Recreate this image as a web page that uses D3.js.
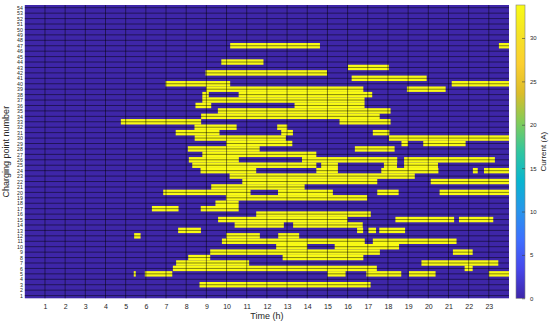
<!DOCTYPE html>
<html>
<head>
<meta charset="utf-8">
<script src="https://cdn.jsdelivr.net/npm/d3@7"></script>
<style>
  body { margin: 0; background: #fff; }
  text { font-family: "Liberation Sans", Arial, Helvetica, sans-serif; fill: #262626; }
</style>
</head>
<body>
<svg id="chart" width="550" height="323"></svg>
<script>
/////// Data

var pointIds = d3.range(1, 55);
var hourTicks = [1, 2, 3, 4, 5, 6, 7, 8, 9, 10, 11, 12, 13, 14, 15, 16, 17, 18, 19, 20, 21, 22, 23];
var currentTicks = [0, 5, 10, 15, 20, 25, 30];
var currentMax = 33.8;
var chargeCurrent = 33.8;

// charging intervals per point: [point, start h, end h]
var chargingSessions = [
  [3, 8.66, 17.14],
  [5, 5.40, 5.50], [5, 5.95, 7.31], [5, 15.0, 15.9], [5, 16.93, 18.66], [5, 19.04, 20.36], [5, 23.0, 24],
  [6, 7.34, 17.45], [6, 21.8, 22.2],
  [7, 7.5, 11.12], [7, 19.66, 23.47],
  [8, 8.1, 9.19], [8, 12.78, 16.78],
  [9, 9.19, 17.6], [9, 21.22, 22.2],
  [10, 12.46, 14.0], [10, 15.36, 18.55],
  [11, 9.77, 16.85], [11, 17.25, 21.4],
  [12, 5.42, 5.74], [12, 9.98, 11.65], [12, 12.56, 13.6],
  [13, 7.6, 8.73], [13, 16.47, 16.77], [13, 17.03, 17.41], [13, 17.57, 18.85],
  [14, 10.4, 12.84], [14, 13.3, 16.75],
  [15, 9.58, 16.0], [15, 18.37, 21.28], [15, 21.52, 23.22],
  [16, 11.47, 17.15],
  [17, 6.3, 7.62], [17, 8.72, 10.6],
  [18, 9.45, 10.6],
  [19, 9.97, 16.97],
  [20, 6.86, 11.19], [20, 12.55, 15.27], [20, 17.47, 18.53], [20, 20.56, 24],
  [21, 9.24, 13.87],
  [22, 10.78, 17.47], [22, 20.12, 24],
  [23, 10.15, 19.33],
  [24, 8.71, 11.47], [24, 14.45, 15.52], [24, 17.67, 20.5], [24, 22.21, 22.45], [24, 22.76, 24],
  [25, 8.3, 14.45], [25, 14.69, 15.52], [25, 17.8, 18.45], [25, 18.8, 20.48],
  [26, 8.13, 10.61], [26, 13.74, 18.46], [26, 18.8, 23.3],
  [27, 8.8, 14.45],
  [28, 8.08, 11.64], [28, 16.36, 18.33],
  [29, 9.98, 13.26], [29, 18.67, 19.0], [29, 19.75, 21.85],
  [30, 8.42, 12.94], [30, 18.05, 24],
  [31, 7.48, 9.65], [31, 12.71, 13.29], [31, 17.25, 18.07],
  [32, 8.41, 10.5], [32, 12.51, 13.01],
  [33, 4.76, 8.74], [33, 15.6, 18.13],
  [34, 8.74, 17.59],
  [35, 9.57, 18.13],
  [36, 8.46, 9.24], [36, 13.37, 16.84],
  [37, 8.8, 16.84],
  [38, 8.8, 9.12], [38, 10.6, 17.22],
  [39, 8.99, 16.78], [39, 18.94, 20.86],
  [40, 6.98, 10.18], [40, 21.16, 24],
  [41, 16.2, 19.92],
  [42, 8.96, 14.98],
  [43, 16.02, 18.05],
  [44, 9.74, 11.83],
  [47, 10.18, 14.63], [47, 23.5, 24]
];

/////// Layout

var svg = d3.select('#chart');
var plotLeft = 24.8, plotRight = 509, plotTop = 5, plotBottom = 298.3;

var x = d3.scaleLinear().domain([0, 24]).range([plotLeft, plotRight]);
var y = d3.scaleLinear().domain([0.5, 54.5]).range([plotBottom, plotTop]);

// parula-like colour map
var parulaStops = ['#3e26a8', '#4747eb', '#3e6fff', '#2796eb', '#08b5d0', '#31c69f', '#81cc59', '#dcbd29', '#fccf30', '#f5e326', '#f9fb15'];
var color = d3.scaleLinear()
    .domain(parulaStops.map(function (d, i) { return currentMax * i / (parulaStops.length - 1); }))
    .range(parulaStops);

/////// Heat map

svg.append('rect')
    .attr('x', x(0))
    .attr('y', y(54.5))
    .attr('width', x(24) - x(0))
    .attr('height', y(0.5) - y(54.5))
    .attr('fill', color(0));

svg.append('g')
  .selectAll('rect')
  .data(chargingSessions)
  .join('rect')
    .attr('x', function (d) { return x(d[1]); })
    .attr('y', function (d) { return y(d[0] + 0.5); })
    .attr('width', function (d) { return x(d[2]) - x(d[1]); })
    .attr('height', function (d) { return y(d[0] - 0.5) - y(d[0] + 0.5); })
    .attr('fill', color(chargeCurrent));

// grid lines through the ticks
var grid = svg.append('g')
    .attr('stroke', '#000')
    .attr('stroke-opacity', 0.6)
    .attr('stroke-width', 0.8);

grid.selectAll('.hgrid')
  .data(pointIds)
  .join('line')
    .attr('class', 'hgrid')
    .attr('x1', plotLeft).attr('x2', plotRight)
    .attr('y1', function (d) { return y(d); })
    .attr('y2', function (d) { return y(d); });

grid.selectAll('.vgrid')
  .data(hourTicks)
  .join('line')
    .attr('class', 'vgrid')
    .attr('y1', plotTop).attr('y2', plotBottom)
    .attr('x1', function (d) { return x(d); })
    .attr('x2', function (d) { return x(d); });

/////// Axes

var xAxis = svg.append('g')
    .attr('transform', 'translate(0,' + plotBottom + ')')
    .call(d3.axisBottom(x).tickValues(hourTicks).tickSize(0).tickPadding(6));
xAxis.select('.domain').remove();
xAxis.selectAll('text').attr('font-size', 7).attr('fill', '#262626');

var yAxis = svg.append('g')
    .attr('transform', 'translate(' + plotLeft + ',0)')
    .call(d3.axisLeft(y).tickValues(pointIds).tickSize(0).tickPadding(2));
yAxis.select('.domain').remove();
yAxis.selectAll('text').attr('font-size', 5.2).attr('fill', '#262626');

svg.append('text')
    .attr('x', (plotLeft + plotRight) / 2)
    .attr('y', 319)
    .attr('text-anchor', 'middle')
    .attr('font-size', 9)
    .text('Time (h)');

svg.append('text')
    .attr('transform', 'translate(9,' + ((plotTop + plotBottom) / 2) + ') rotate(-90)')
    .attr('text-anchor', 'middle')
    .attr('font-size', 9)
    .text('Charging point number');

/////// Colour bar

var cbLeft = 516, cbWidth = 9;
var cy = d3.scaleLinear().domain([0, currentMax]).range([plotBottom, plotTop]);

var grad = svg.append('defs')
  .append('linearGradient')
    .attr('id', 'parula')
    .attr('x1', 0).attr('x2', 0).attr('y1', 1).attr('y2', 0);

grad.selectAll('stop')
  .data(parulaStops)
  .join('stop')
    .attr('offset', function (d, i) { return i / (parulaStops.length - 1); })
    .attr('stop-color', function (d) { return d; });

svg.append('rect')
    .attr('x', cbLeft)
    .attr('y', plotTop)
    .attr('width', cbWidth)
    .attr('height', plotBottom - plotTop)
    .attr('fill', 'url(#parula)')
    .attr('stroke', '#808080')
    .attr('stroke-width', 0.6);

var cAxis = svg.append('g')
    .attr('transform', 'translate(' + (cbLeft + cbWidth) + ',0)')
    .call(d3.axisRight(cy).tickValues(currentTicks).tickSize(-3).tickPadding(5));
cAxis.select('.domain').remove();
cAxis.selectAll('line').attr('stroke', '#404040').attr('stroke-width', 0.6);
cAxis.selectAll('text').attr('font-size', 6).attr('fill', '#262626');

svg.append('text')
    .attr('transform', 'translate(546,' + ((plotTop + plotBottom) / 2) + ') rotate(-90)')
    .attr('text-anchor', 'middle')
    .attr('font-size', 8)
    .text('Current (A)');
</script>
</body>
</html>
